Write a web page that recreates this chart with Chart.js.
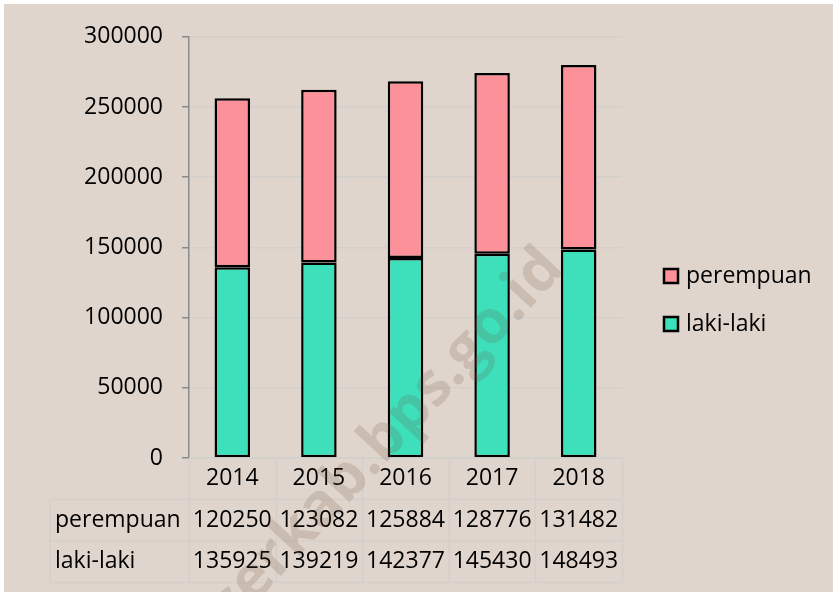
<!DOCTYPE html>
<html>
<head>
<meta charset="utf-8">
<script src="https://cdn.jsdelivr.net/npm/chart.js@4"></script>
<style>
  html, body { margin: 0; padding: 0; background: #ffffff; }
  #wrap {
    position: absolute;
    left: 4px;
    top: 4px;
    width: 829px;
    height: 588px;
    background: #e0d5cc;
  }
</style>
</head>
<body>
<div id="wrap"><canvas id="popChart"></canvas></div>
<script>
/*******************************************
 * DATA
 *******************************************/
const years = ["2014", "2015", "2016", "2017", "2018"];
const perempuan = [120250, 123082, 125884, 128776, 131482];
const lakiLaki = [135925, 139219, 142377, 145430, 148493];
const seriesNames = ["perempuan", "laki-laki"];

const yMax = 300000;
const yStep = 50000;

const pinkColor = "#fc919a";
const tealColor = "#3ee0bc";
const gridColor = "#d3d0cc";
const axisColor = "#8a8a8a";
const fontFamily = "'Open Sans', sans-serif";
const fontSize = 23;

/*******************************************
 * DATA TABLE + LEGEND (drawn under the plot)
 *******************************************/
const tablePlugin = {
  id: "dataTable",
  afterDraw(chart) {
    const ctx = chart.ctx;
    const xScale = chart.scales.x;
    const area = chart.chartArea;
    const colW = xScale.width / years.length;
    const rowH = 41.5;
    const top = area.bottom;
    const labelLeft = 46;
    const rows = [top, top + rowH, top + rowH * 2, top + rowH * 3];

    ctx.save();
    ctx.strokeStyle = gridColor;
    ctx.lineWidth = 1.5;

    // horizontal lines
    ctx.beginPath();
    ctx.moveTo(area.left, rows[0]);
    ctx.lineTo(area.right, rows[0]);
    for (let r = 1; r < rows.length; r++) {
      ctx.moveTo(labelLeft, rows[r]);
      ctx.lineTo(area.right, rows[r]);
    }
    // vertical lines
    for (let i = 0; i <= years.length; i++) {
      const xx = Math.round(area.left + i * colW) + 0.5;
      ctx.moveTo(xx, rows[0]);
      ctx.lineTo(xx, rows[3]);
    }
    ctx.moveTo(labelLeft, rows[1]);
    ctx.lineTo(labelLeft, rows[3]);
    ctx.stroke();

    // text
    ctx.fillStyle = "#000";
    ctx.font = fontSize + "px " + fontFamily;
    ctx.textBaseline = "middle";
    ctx.textAlign = "center";
    years.forEach((yr, i) => {
      const cx = xScale.getPixelForValue(i);
      ctx.fillText(yr, cx, (rows[0] + rows[1]) / 2);
      ctx.fillText(String(perempuan[i]), cx, (rows[1] + rows[2]) / 2);
      ctx.fillText(String(lakiLaki[i]), cx, (rows[2] + rows[3]) / 2);
    });
    ctx.textAlign = "left";
    ctx.fillText(seriesNames[0], labelLeft + 5, (rows[1] + rows[2]) / 2);
    ctx.fillText(seriesNames[1], labelLeft + 5, (rows[2] + rows[3]) / 2);

    // legend on the right
    const legendItems = [
      { name: seriesNames[0], color: pinkColor, y: 272 },
      { name: seriesNames[1], color: tealColor, y: 320 },
    ];
    legendItems.forEach((item) => {
      ctx.fillStyle = item.color;
      ctx.fillRect(660, item.y - 7, 14, 14);
      ctx.strokeStyle = "#000";
      ctx.lineWidth = 2.5;
      ctx.strokeRect(660, item.y - 7, 14, 14);
      ctx.fillStyle = "#000";
      ctx.fillText(item.name, 682, item.y);
    });

    // watermark
    ctx.translate(562, 266);
    ctx.rotate((-47 * Math.PI) / 180);
    ctx.font = "bold 60px " + fontFamily;
    ctx.textAlign = "right";
    ctx.textBaseline = "alphabetic";
    ctx.fillStyle = "rgba(110, 80, 60, 0.18)";
    ctx.fillText("serkab.bps.go.id", 0, 0);
    ctx.restore();
  },
};

/*******************************************
 * CHART
 *******************************************/
const ctx = document.getElementById("popChart");
new Chart(ctx, {
  type: "bar",
  data: {
    labels: years,
    datasets: [
      {
        label: seriesNames[1],
        data: lakiLaki,
        backgroundColor: tealColor,
        borderColor: "#000",
        borderWidth: 2.5,
        borderSkipped: false,
      },
      {
        label: seriesNames[0],
        data: perempuan,
        backgroundColor: pinkColor,
        borderColor: "#000",
        borderWidth: 2.5,
        borderSkipped: false,
      },
    ],
  },
  options: {
    responsive: true,
    maintainAspectRatio: false,
    animation: false,
    datasets: {
      bar: { categoryPercentage: 1, barPercentage: 0.41 },
    },
    layout: {
      padding: { left: 0, right: 211, top: 30, bottom: 134 },
    },
    plugins: {
      legend: { display: false },
      tooltip: { enabled: false },
    },
    scales: {
      x: {
        stacked: true,
        display: false,
      },
      y: {
        stacked: true,
        min: 0,
        max: yMax,
        afterFit: (scale) => {
          scale.width = 185;
        },
        ticks: {
          stepSize: yStep,
          padding: 19,
          color: "#000",
          font: { family: fontFamily, size: fontSize },
          callback: (value) => String(value),
        },
        grid: {
          color: gridColor,
          lineWidth: 1.5,
          tickColor: axisColor,
          tickLength: 7,
        },
        border: { color: axisColor, width: 1.5 },
      },
    },
  },
  plugins: [tablePlugin],
});
</script>
</body>
</html>
